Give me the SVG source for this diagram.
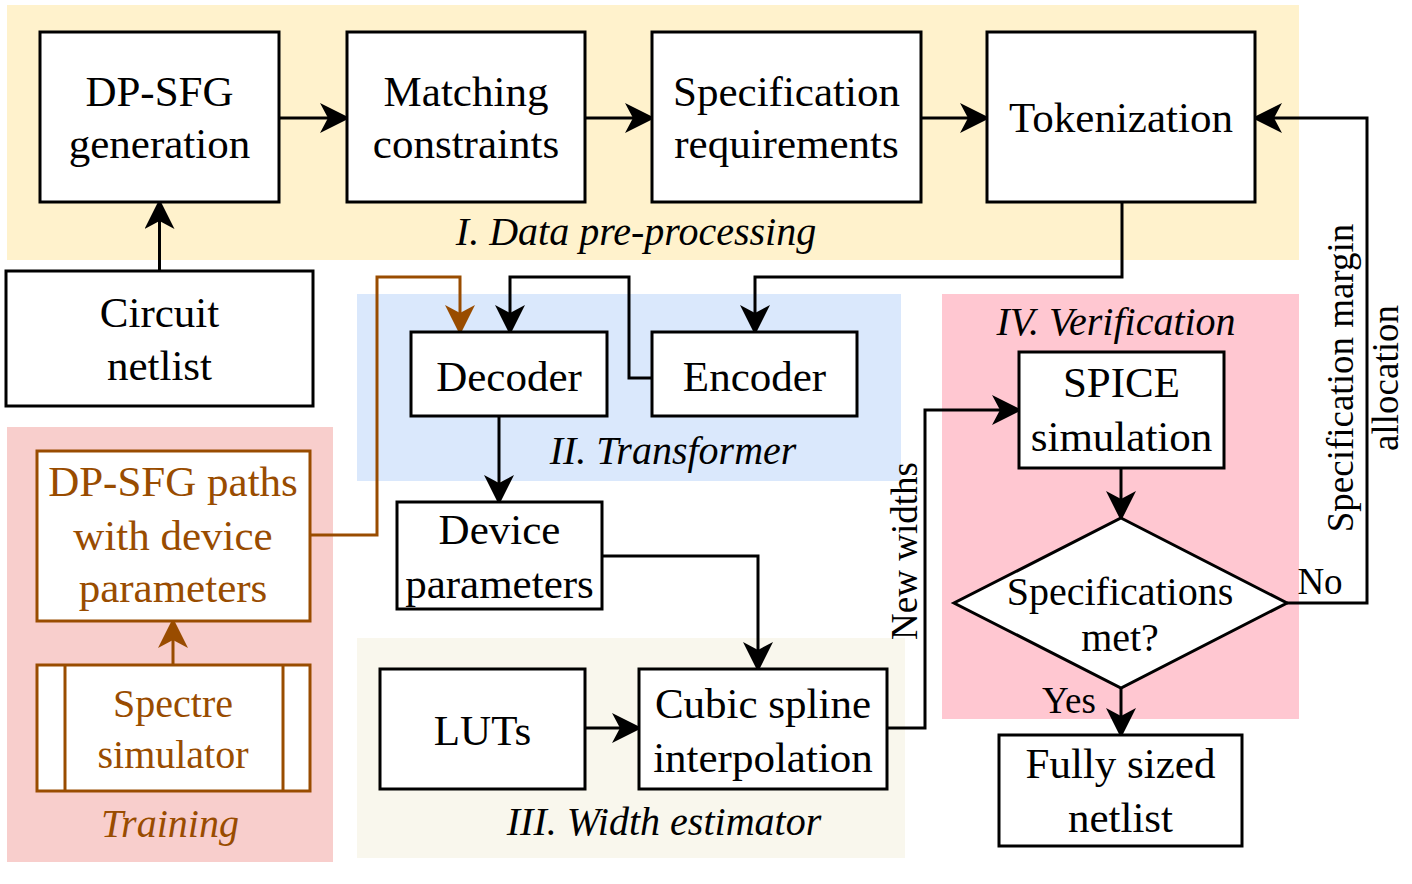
<svg xmlns="http://www.w3.org/2000/svg" width="1412" height="884" viewBox="0 0 1412 884">
<style>
.bx{fill:#fff;stroke:#000;stroke-width:3}
.bb{fill:#fff;stroke:#994C00;stroke-width:3}
.t{font-family:"Liberation Serif","Times New Roman",serif;font-size:43px;fill:#000;text-anchor:middle}
.tb{fill:#994C00}
.s40{font-size:40px}
.lab{font-family:"Liberation Serif","Times New Roman",serif;font-size:40px;font-style:italic;fill:#000;text-anchor:middle}
.el{font-family:"Liberation Serif","Times New Roman",serif;font-size:37px;fill:#000;text-anchor:middle}
.c{fill:none;stroke:#000;stroke-width:3;marker-end:url(#ak)}
.cb{fill:none;stroke:#994C00;stroke-width:3;marker-end:url(#ab)}
.cn{fill:none;stroke:#000;stroke-width:3}
</style>
<defs>
<marker id="ak" markerUnits="userSpaceOnUse" viewBox="0 0 30 30" refX="27" refY="15" markerWidth="30" markerHeight="30" orient="auto">
<path d="M30,15 L0,0 L8,15 L0,30 Z" fill="#000"/>
</marker>
<marker id="ab" markerUnits="userSpaceOnUse" viewBox="0 0 30 30" refX="27" refY="15" markerWidth="30" markerHeight="30" orient="auto">
<path d="M30,15 L0,0 L8,15 L0,30 Z" fill="#994C00"/>
</marker>
</defs>
<rect width="1412" height="884" fill="#fff"/>
<g id="regions">
<rect x="7" y="5" width="1292" height="255" fill="#FFF2CC"/>
<rect x="357" y="294" width="544" height="187" fill="#DAE8FC"/>
<rect x="357" y="638" width="548" height="220" fill="#F9F7ED"/>
<rect x="942" y="294" width="357" height="425" fill="#FFC7D1"/>
<rect x="7" y="427" width="326" height="435" fill="#F8CECC"/>
<text class="lab" x="636" y="245">I. Data pre-processing</text>
<text class="lab" x="673" y="464">II. Transformer</text>
<text class="lab" x="664" y="835">III. Width estimator</text>
<text class="lab" x="1116" y="335">IV. Verification</text>
<text class="lab" x="170" y="837" fill="#994C00" style="fill:#994C00">Training</text>
</g>
<g id="connectors">
<path class="c" d="M279,118 H347"/>
<path class="c" d="M585,118 H652"/>
<path class="c" d="M921,118 H987"/>
<path class="c" d="M159.5,271 V202"/>
<path class="c" d="M1122,202 V277 H755 V332"/>
<path class="c" d="M652,378 H629 V277 H510 V332"/>
<path class="cb" d="M310,535 H377 V277 H460 V332"/>
<path class="cb" d="M173,665 V621"/>
<path class="c" d="M499,416 V502"/>
<path class="c" d="M602,556 H758 V669"/>
<path class="c" d="M585,728 H639"/>
<path class="c" d="M887,728 H925 V410 H1019"/>
<path class="c" d="M1121,468 V518"/>
<path class="c" d="M1121,688 V735"/>
<path class="c" d="M1287,603 H1367 V118 H1255"/>
<text class="el" transform="translate(917,551) rotate(-90)">New widths</text>
<text class="el" transform="translate(1353,378) rotate(-90)">Specification margin</text>
<text class="el" transform="translate(1398,378) rotate(-90)">allocation</text>
<text class="el" x="1320" y="594">No</text>
<text class="el" x="1069" y="713">Yes</text>
</g>
<g id="dpsfg">
<rect class="bx" x="40" y="32" width="239" height="170"/>
<text class="t" x="159.5" y="106">DP-SFG</text>
<text class="t" x="159.5" y="158">generation</text>
</g>
<g id="matching">
<rect class="bx" x="347" y="32" width="238" height="170"/>
<text class="t" x="466" y="106">Matching</text>
<text class="t" x="466" y="158">constraints</text>
</g>
<g id="specreq">
<rect class="bx" x="652" y="32" width="269" height="170"/>
<text class="t" x="786.5" y="106">Specification</text>
<text class="t" x="786.5" y="158">requirements</text>
</g>
<g id="tokenization">
<rect class="bx" x="987" y="32" width="268" height="170"/>
<text class="t" x="1121" y="132">Tokenization</text>
</g>
<g id="circuit">
<rect class="bx" x="6" y="271" width="307" height="135"/>
<text class="t" x="159.5" y="327">Circuit</text>
<text class="t" x="159.5" y="380">netlist</text>
</g>
<g id="decoder">
<rect class="bx" x="411" y="332" width="196" height="84"/>
<text class="t" x="509" y="391">Decoder</text>
</g>
<g id="encoder">
<rect class="bx" x="652" y="332" width="205" height="84"/>
<text class="t" x="754.5" y="391">Encoder</text>
</g>
<g id="devparams">
<rect class="bx" x="397" y="502" width="205" height="107"/>
<text class="t" x="499.5" y="544">Device</text>
<text class="t" x="499.5" y="598">parameters</text>
</g>
<g id="dpsfgpaths">
<rect class="bb" x="37" y="451" width="273" height="170"/>
<text class="t tb" x="173" y="496">DP-SFG paths</text>
<text class="t tb" x="173" y="550">with device</text>
<text class="t tb" x="173" y="602">parameters</text>
</g>
<g id="spectre">
<rect class="bb" x="37" y="665" width="273" height="126"/>
<line x1="65" y1="665" x2="65" y2="791" stroke="#994C00" stroke-width="3"/>
<line x1="283" y1="665" x2="283" y2="791" stroke="#994C00" stroke-width="3"/>
<text class="t tb s40" x="173" y="717">Spectre</text>
<text class="t tb s40" x="173" y="768">simulator</text>
</g>
<g id="luts">
<rect class="bx" x="380" y="669" width="205" height="120"/>
<text class="t" x="482.5" y="745">LUTs</text>
</g>
<g id="cubic">
<rect class="bx" x="639" y="669" width="248" height="120"/>
<text class="t" x="763" y="718">Cubic spline</text>
<text class="t" x="763" y="772">interpolation</text>
</g>
<g id="spice">
<rect class="bx" x="1019" y="352" width="205" height="116"/>
<text class="t" x="1121.5" y="397">SPICE</text>
<text class="t" x="1121.5" y="451">simulation</text>
</g>
<g id="decision">
<path class="bx" d="M1121,518 L1287,603 L1121,688 L954,603 Z"/>
<text class="t s40" x="1120" y="605">Specifications</text>
<text class="t s40" x="1120" y="651">met?</text>
</g>
<g id="fullysized">
<rect class="bx" x="999" y="735" width="243" height="111"/>
<text class="t" x="1120.5" y="778">Fully sized</text>
<text class="t" x="1120.5" y="832">netlist</text>
</g>
</svg>
